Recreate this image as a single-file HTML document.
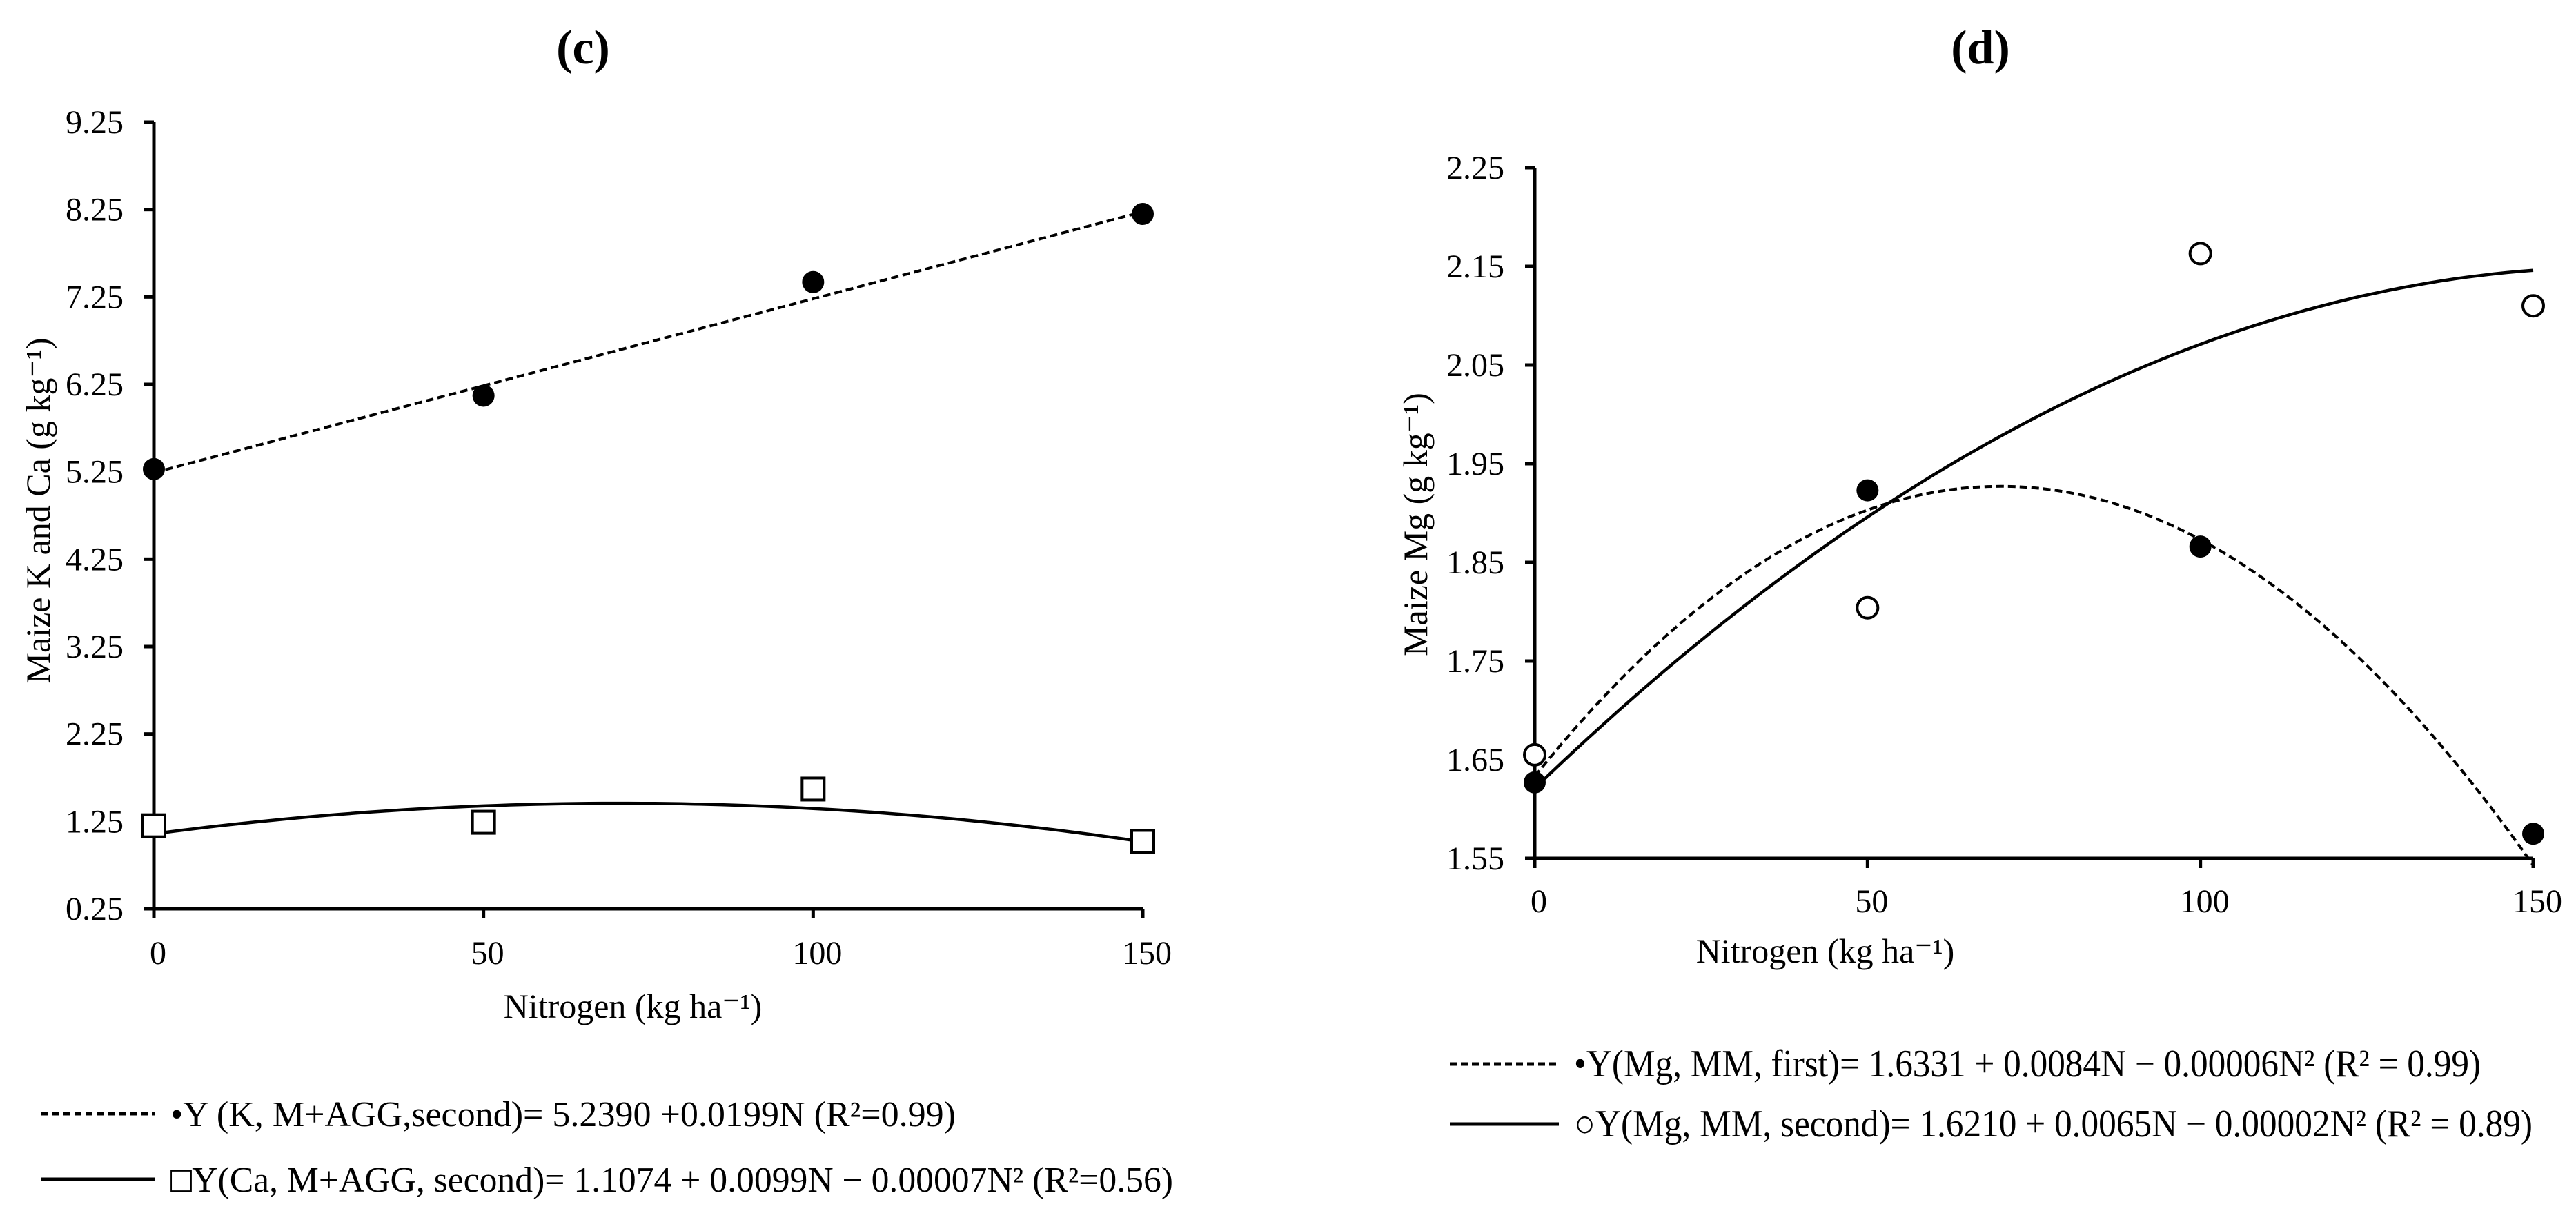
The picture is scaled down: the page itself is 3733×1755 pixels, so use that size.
<!DOCTYPE html>
<html><head><meta charset="utf-8">
<style>
html,body{margin:0;padding:0;background:#fff;}
svg{display:block;}
text{font-family:"Liberation Serif",serif;fill:#000;}
</style></head>
<body>
<svg id="fig" width="3733" height="1755" viewBox="0 0 3733 1755" xmlns="http://www.w3.org/2000/svg">
<text x="845" y="92" font-size="70" font-weight="bold" text-anchor="middle">(c)</text>
<text x="2870" y="92" font-size="70" font-weight="bold" text-anchor="middle">(d)</text>
<g id="gc"></g>
<g id="gd"></g>
</svg>
<script>
// ---- Chart (c) data ----
const cXTicks = [0, 50, 100, 150];
const cYTicks = [0.25, 1.25, 2.25, 3.25, 4.25, 5.25, 6.25, 7.25, 8.25, 9.25];
const cN = [0, 50, 100, 150];
const cK = [5.28, 6.12, 7.42, 8.20];
const cCa = [1.20, 1.24, 1.62, 1.02];
const cKCoef = [5.2390, 0.0199, 0];
const cCaCoef = [1.1074, 0.0099, -0.00007];
// ---- Chart (d) data ----
const dXTicks = [0, 50, 100, 150];
const dYTicks = [1.55, 1.65, 1.75, 1.85, 1.95, 2.05, 2.15, 2.25];
const dN = [0, 50, 100, 150];
const dFirst = [1.627, 1.923, 1.866, 1.575];
const dSecond = [1.655, 1.804, 2.163, 2.110];
const dFirstCoef = [1.6331, 0.0084, -0.00006];
const dSecondCoef = [1.6210, 0.0065, -0.00002];

const NS = "http://www.w3.org/2000/svg";
function mk(parent, tag, attrs, txt){
  const e = document.createElementNS(NS, tag);
  for (const k in attrs) e.setAttribute(k, attrs[k]);
  if (txt !== undefined) e.textContent = txt;
  parent.appendChild(e);
  return e;
}
function axes(g, o){
  const sx = v => o.x0 + (v - o.xmin) / (o.xmax - o.xmin) * (o.x1 - o.x0);
  const sy = v => o.y0 - (v - o.ymin) / (o.ymax - o.ymin) * (o.y0 - o.y1);
  let e = mk(g, "line", {x1:o.x0, y1:o.y1, x2:o.x0, y2:o.y0, stroke:"#000", "stroke-width":5});
  
  
  e = mk(g, "line", {x1:o.x0, y1:o.y0, x2:o.x1, y2:o.y0, stroke:"#000", "stroke-width":5});
  
  
  o.yTicks.forEach(v => {
    const y = sy(v);
    let t = mk(g, "line", {x1:o.x0-14, y1:y, x2:o.x0, y2:y, stroke:"#000", "stroke-width":5});
    
    
    let l = mk(g, "text", {x:o.x0-44, y:y+16, "font-size":48, "text-anchor":"end"}, v.toFixed(2));
    
    
  });
  o.xTicks.forEach(v => {
    const x = sx(v);
    let t = mk(g, "line", {x1:x, y1:o.y0, x2:x, y2:o.y0+14, stroke:"#000", "stroke-width":5});
    
    
    let l = mk(g, "text", {x:x+6, y:o.xLabY, "font-size":48, "text-anchor":"middle"}, String(v));
    
    
  });
  return {sx, sy};
}
function curve(g, s, coef, dashed, name){
  let d = "";
  for (let n = 0; n <= 150; n += 2){
    const v = coef[0] + coef[1]*n + coef[2]*n*n;
    d += (n === 0 ? "M" : "L") + s.sx(n).toFixed(1) + "," + s.sy(v).toFixed(1);
  }
  const p = mk(g, "path", {d:d, fill:"none", stroke:"#000", "stroke-width":dashed?4:4.5});
  if (dashed) p.setAttribute("stroke-dasharray", "11 6");
  
  
}
function dots(g, s, xs, ys, kind, name){
  xs.forEach((n, i) => {
    const x = s.sx(n), y = s.sy(ys[i]);
    let e;
    if (kind === "fill") e = mk(g, "circle", {cx:x, cy:y, r:16, fill:"#000"});
    else if (kind === "ring") e = mk(g, "circle", {cx:x, cy:y, r:15, fill:"#fff", stroke:"#000", "stroke-width":4});
    else e = mk(g, "rect", {x:x-16, y:y-16, width:32, height:32, fill:"#fff", stroke:"#000", "stroke-width":4});
    
    
  });
}
function legend(g, x0, x1, tx, tend, y, dashed, label, fs, name){
  const l = mk(g, "line", {x1:x0, y1:y-18, x2:x1, y2:y-18, stroke:"#000", "stroke-width":dashed?5:5});
  if (dashed) l.setAttribute("stroke-dasharray", "10 6");
  
  
  const t = mk(g, "text", {x:tx, y:y, "font-size":fs, textLength:tend-tx, lengthAdjust:"spacingAndGlyphs"}, label);
  
  
}
function rot(g, x, y, label, name){
  const t = mk(g, "text", {x:x, y:y, "font-size":50, "text-anchor":"middle", transform:"rotate(-90 "+x+" "+y+")"}, label);
  
  
}

// Chart c
const gc = document.getElementById("gc");
const sc = axes(gc, {x0:223, x1:1656, y0:1317, y1:177, xmin:0, xmax:150, ymin:0.25, ymax:9.25, yTicks:cYTicks, xTicks:cXTicks, xLabY:1397});
curve(gc, sc, cKCoef, true, "k-trendline");
curve(gc, sc, cCaCoef, false, "ca-trendline");
dots(gc, sc, cN, cK, "fill", "k-point");
dots(gc, sc, cN, cCa, "square", "ca-point");
rot(gc, 72, 740, "Maize K and Ca (g kg⁻¹)", "y-axis-title-c");
let xt = mk(gc, "text", {x:917, y:1475, "font-size":50, "text-anchor":"middle"}, "Nitrogen (kg ha⁻¹)");


legend(gc, 60, 224, 247, 1385, 1632, true, "•Y (K, M+AGG,second)= 5.2390 +0.0199N (R²=0.99)", 52, "legend-entry-k");
legend(gc, 60, 224, 247, 1700, 1727, false, "□Y(Ca, M+AGG, second)= 1.1074 + 0.0099N − 0.00007N² (R²=0.56)", 52, "legend-entry-ca");

// Chart d
const gd = document.getElementById("gd");
const sd = axes(gd, {x0:2224, x1:3671, y0:1244, y1:243, xmin:0, xmax:150, ymin:1.55, ymax:2.25, yTicks:dYTicks, xTicks:dXTicks, xLabY:1322});
curve(gd, sd, dFirstCoef, true, "mg-first-trendline");
curve(gd, sd, dSecondCoef, false, "mg-second-trendline");
dots(gd, sd, dN, dSecond, "ring", "mg-second-point");
dots(gd, sd, dN, dFirst, "fill", "mg-first-point");
rot(gd, 2068, 760, "Maize Mg (g kg⁻¹)", "y-axis-title-d");
xt = mk(gd, "text", {x:2645, y:1395, "font-size":50, "text-anchor":"middle"}, "Nitrogen (kg ha⁻¹)");


legend(gd, 2101, 2259, 2281, 3595, 1560, true, "•Y(Mg, MM, first)= 1.6331 + 0.0084N − 0.00006N² (R² = 0.99)", 56, "legend-entry-mg-first");
legend(gd, 2101, 2259, 2281, 3670, 1647, false, "○Y(Mg, MM, second)= 1.6210 + 0.0065N − 0.00002N² (R² = 0.89)", 56, "legend-entry-mg-second");
</script>
</body></html>
